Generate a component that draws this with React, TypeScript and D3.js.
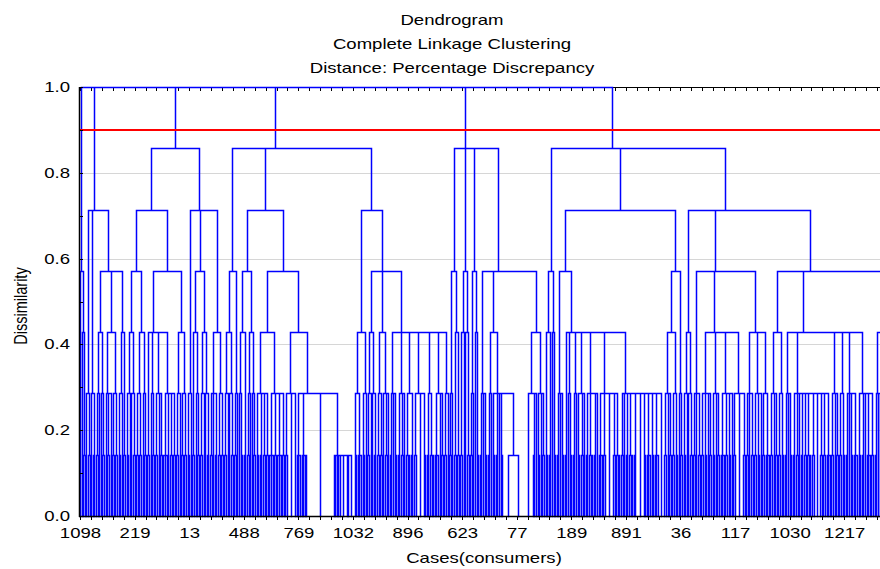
import React, { useEffect, useMemo } from "react";
import * as d3 from "d3";

// ---------------- data ----------------
const chartTitle = ["Dendrogram", "Complete Linkage Clustering", "Distance: Percentage Discrepancy"];
const xAxisTitle = "Cases(consumers)";
const yAxisTitle = "Dissimilarity";
const caseLabels = ["1098", "219", "13", "488", "769", "1032", "896", "623", "77", "189", "891", "36", "117", "1030", "1217"];
const casesPerLabel = 34;
const minorTicksPerLabel = 5;
const yTickValues = [0, 0.2, 0.4, 0.6, 0.8, 1.0];
const yMinorStep = 0.1;
const gridValues = [0.2, 0.4, 0.6, 0.8];
const linkageLevels = 7; // merge heights are multiples of 1/7
const cutHeight = 0.9;

// Tree notation: "(a,b,...)h" = children merged at height h/7;
// "1" = one case, "n" (n>1) = n cases merged at 1/7, "gN" = N identical cases.
const clusterC1 = "(1,(1,2)3)4";
const clusterC2 = "((1,2)2,(1,2)2,(((2,1)2,(1,2)2)3,((1,2,1)2,(2,2)2)3,((2,1)2,2)3)4)5";

const branchD1a = "(((2,1)2,(1,2)2)3,((2,2)2,(1,2)2)3)4";
const branchD1b = "((2,(1,2)2,(2,1,2)2,(3,1,2,2)2)3,((2,1)2,(2,2)2)3)4";
const branchD2a = "(2,1)2";
const branchD2b = "((2,(1,2)2)3,((2,1)2,(1,2)2)3)4";
const branchD2c = "((2,1,2)2,(2,2)2)3";
const clusterC3 = `((${branchD1a},${branchD1b})5,(${branchD2a},${branchD2b},${branchD2c})5)6`;

const branchE1 = "(((2,1)2,(1,2)2)3,(2,1)2)4";
const branchE2a = "(((1,2)2,2)3,((2,1)2,(1,2)2)3)4";
const branchE2b = "(((2,2,2,2)2,(3,2,3,2)2)3,((2,g4,1)2,(3,4,g16,(2,1,2,g3,2,g3)1)2)3)4";
const branchE3a = "((2,3)2,(2,1)2)3";
const branchE3b = "(((2,1)2,(1,2)2)3,((2,2)2,(1,2,1)2)3,((2,1,2)2,(2,2,1)2,(3,2)2,(2,g4,2)2,(2,3)2,(3,1,2)2,(2,1)2)3)4";
const clusterC4 = `(${branchE1},(${branchE2a},${branchE2b})5,(${branchE3a},${branchE3b})5)6`;

const branchF1 = "((2,1)2,(2,2)3)4";
const branchF2 = "((2,1)3,(1,2)3)4";
const branchF3 = "((2,1)2,(1,2)3)4";
const branchF4 = "((2,1,2)2,((2,1)2,(2,2,1,2,(g6,g7)1)2)3,((g5,2,1)2,(2,1,2)2)3)4";
const clusterC5 = `(${branchF1},${branchF2},${branchF3},${branchF4})6`;

const branchG1 = "((2,2)3,(1,2)3)4";
const branchG2a = "((2,1,2)2,(2,(1,2)2,(2,1)2,(2,2,1)2,(2,3,2,1)2,(3,2,g4,2,3)2,(2,1,2,3,2,g4,2,3,2,3,g3)2)3)4";
const branchG2b = "(((2,1,2)2,(2,2)2)3,(1,2)2)4";
const branchG3a = "((2,1)2,(1,2)2)3";
const branchG3b = "((2,1,2)2,((2,2,1,2)2,(2,1,2)2,(3,2,2,1)2,(2,g4,2)2)3,((2,1,2)2,(2,2,1)2,(2,3)2)3)4";
const branchG3c = "(((2,1,2)2,(2,2)2)3,((2,1,2)2,(2,2,1,2,2,3,2,g3,2,2,3)2,(2,1,2)2,(2,2)2,(2,1,2,3)2,(2,2,1,3,2)2)3,((2,1,2)2,(2,2)2)3)4";
const clusterC6 = `(${branchG1},(${branchG2a},${branchG2b})5,(${branchG3a},${branchG3b},${branchG3c})5)6`;

const treeSpec = `(${clusterC1},${clusterC2},${clusterC3},${clusterC4},${clusterC5},${clusterC6})7`;

// ---------------- parsing ----------------
type TNode = { children?: TNode[]; level: number; weight: number };

function parseTree(src: string): TNode {
  const s = src.replace(/\s+/g, "");
  let i = 0;
  const readNum = () => {
    let t = "";
    while (i < s.length && s[i] >= "0" && s[i] <= "9") t += s[i++];
    return +t;
  };
  const parseNode = (): TNode => {
    if (s[i] === "(") {
      i++;
      const children: TNode[] = [];
      for (;;) {
        children.push(parseNode());
        if (s[i] === ",") { i++; continue; }
        if (s[i] === ")") { i++; break; }
        throw new Error("parse error at " + i);
      }
      return { children, level: readNum(), weight: 0 };
    }
    if (s[i] === "g") {
      i++;
      return { level: 0, weight: readNum() };
    }
    const n = readNum();
    if (n === 1) return { level: 0, weight: 1 };
    return { level: 1, weight: 0, children: Array.from({ length: n }, () => ({ level: 0, weight: 1 })) };
  };
  return parseNode();
}

// ---------------- chart ----------------
const W = 880;
const H = 569;
const plotLeft = 79;
const plotRight = 880;
const yTop = 87;
const yBottom = 516;
const stretch = 1.28;
const font = "'Liberation Sans', Arial, sans-serif";

function SText(props: { x: number; y: number; anchor?: string; size?: number; children: React.ReactNode; rotate?: boolean }) {
  const { x, y, anchor = "middle", size = 14.5, rotate = false } = props;
  const tr = rotate
    ? `translate(${x},${y}) rotate(-90) scale(1,${stretch})`
    : `translate(${x},${y}) scale(${stretch},1)`;
  return (
    <text transform={tr} textAnchor={anchor} fontSize={size} fontFamily={font} fill="#000">
      {props.children}
    </text>
  );
}

export default function App() {
  useEffect(() => {
    document.body.style.margin = "0";
  }, []);

  const xScale = d3
    .scaleLinear()
    .domain([0, casesPerLabel * (caseLabels.length - 1)])
    .range([80.5, 844.7]);
  const yScale = d3.scaleLinear().domain([0, 1]).range([yBottom, yTop]);

  const pathD = useMemo(() => {
    const root = d3.hierarchy<TNode>(parseTree(treeSpec), (d) => d.children);
    let slot = 0;
    const pos = new Map<any, number>();
    root.leaves().forEach((leaf) => {
      const w = leaf.data.weight || 1;
      pos.set(leaf, xScale(slot + (w - 1) / 2));
      slot += w;
    });
    root.eachAfter((n) => {
      if (n.children) {
        let acc = pos.get(n.children[n.children.length - 1])!;
        for (let k = n.children.length - 2; k >= 0; k--) acc = (pos.get(n.children[k])! + acc) / 2;
        pos.set(n, acc);
      }
    });
    const px = (v: number) => Math.floor(v) + 0.5;
    const py = (n: d3.HierarchyNode<TNode>) => Math.round(yScale(n.data.level / linkageLevels)) + 0.5;
    const p = d3.path();
    root.each((n) => {
      const x = px(pos.get(n)!);
      if (n.parent) {
        p.moveTo(x, py(n));
        p.lineTo(x, py(n.parent));
      }
      if (n.children) {
        const y = py(n);
        p.moveTo(px(pos.get(n.children[0])!), y);
        p.lineTo(px(pos.get(n.children[n.children.length - 1])!), y);
      }
    });
    return p.toString();
  }, []);

  const minorStep = casesPerLabel / minorTicksPerLabel;
  const minorTicks = d3.range(0, 80).map((k) => xScale(k * minorStep)).filter((x) => x <= plotRight);
  const yMinor = d3.range(0, 1.0001, yMinorStep);

  return (
    <svg width={W} height={H} style={{ position: "absolute", left: 0, top: 0, display: "block", background: "#fff" }}>
      <rect x={0} y={0} width={W} height={H} fill="#fff" />
      {/* grid */}
      {gridValues.map((v) => (
        <line key={v} x1={plotLeft} x2={plotRight} y1={Math.round(yScale(v)) + 0.5} y2={Math.round(yScale(v)) + 0.5} stroke="#d6d6d6" strokeWidth={1.2} />
      ))}
      {/* frame */}
      <line x1={plotLeft} x2={plotRight} y1={yTop + 0.5} y2={yTop + 0.5} stroke="#000" strokeWidth={1} />
      {minorTicks.map((x, i) => (
        <line key={"tt" + i} x1={Math.floor(x) + 0.5} x2={Math.floor(x) + 0.5} y1={yTop} y2={yTop + 4} stroke="#000" strokeWidth={1} />
      ))}
      {/* dendrogram */}
      <path d={pathD} fill="none" stroke="#0000ff" strokeWidth={1.5} strokeLinecap="square" />
      {/* cut line */}
      <line x1={plotLeft} x2={plotRight} y1={yScale(cutHeight)} y2={yScale(cutHeight)} stroke="#ff0000" strokeWidth={2} />
      {/* axes */}
      <line x1={plotLeft + 0.5} x2={plotLeft + 0.5} y1={yTop} y2={yBottom + 1} stroke="#000" strokeWidth={1.5} />
      <line x1={plotLeft} x2={plotRight} y1={yBottom + 0.5} y2={yBottom + 0.5} stroke="#000" strokeWidth={1.5} />
      {yMinor.map((v, i) => (
        <line key={"ym" + i} x1={plotLeft} x2={plotLeft + 4} y1={Math.round(yScale(v)) + 0.5} y2={Math.round(yScale(v)) + 0.5} stroke="#000" strokeWidth={1} />
      ))}
      {minorTicks.map((x, i) => (
        <line key={"bt" + i} x1={Math.floor(x) + 0.5} x2={Math.floor(x) + 0.5} y1={yBottom} y2={yBottom + 4} stroke="#000" strokeWidth={1} />
      ))}
      {/* y labels */}
      {yTickValues.map((v) => (
        <SText key={"yl" + v} x={70} y={yScale(v) + 5} anchor="end">
          {d3.format(".1f")(v)}
        </SText>
      ))}
      {/* x labels */}
      {caseLabels.map((lab, i) => (
        <SText key={"xl" + i} x={xScale(i * casesPerLabel)} y={538}>
          {lab}
        </SText>
      ))}
      {/* titles */}
      <SText x={452} y={25}>{chartTitle[0]}</SText>
      <SText x={452} y={48.5}>{chartTitle[1]}</SText>
      <SText x={452} y={72.5}>{chartTitle[2]}</SText>
      <SText x={484} y={563}>{xAxisTitle}</SText>
      <SText x={27} y={306} rotate>{yAxisTitle}</SText>
    </svg>
  );
}
